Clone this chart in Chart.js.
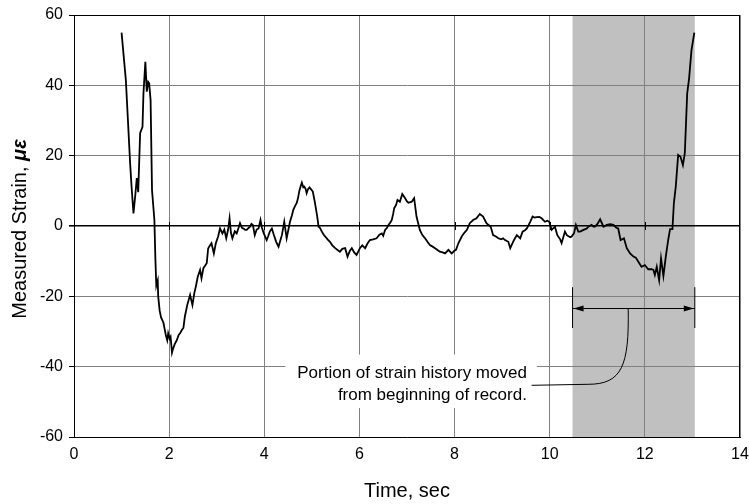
<!DOCTYPE html>
<html>
<head>
<meta charset="utf-8">
<title>Measured Strain</title>
<script src="https://cdn.jsdelivr.net/npm/chart.js@4/dist/chart.umd.min.js"></script>
<style>
    body { margin: 0; background: #fff; }
    canvas { display: block; }
</style>
</head>
<body>
<canvas id="strainChart" width="749" height="504"></canvas>
<script>
// Strain record (time in sec, strain in microstrain)
const timeSec = [
    1.00, 1.09, 1.18, 1.21, 1.25, 1.29, 1.32, 1.35, 1.39, 1.44, 1.46, 1.50, 1.53, 1.56, 1.58, 1.61, 1.64, 1.69,
    1.71, 1.73, 1.76, 1.77, 1.80, 1.83, 1.88, 1.93, 1.96, 1.98, 2.01, 2.03, 2.06, 2.08, 2.12, 2.16, 2.20, 2.23,
    2.27, 2.30, 2.33, 2.38, 2.44, 2.49, 2.53, 2.56, 2.60, 2.65, 2.68, 2.72, 2.79, 2.82, 2.86, 2.89, 2.94, 2.98,
    3.03, 3.07, 3.12, 3.16, 3.20, 3.24, 3.27, 3.30, 3.33, 3.38, 3.42, 3.46, 3.49, 3.53, 3.57, 3.60, 3.63, 3.66,
    3.70, 3.73, 3.76, 3.80, 3.84, 3.88, 3.92, 3.95, 3.99, 4.05, 4.08, 4.12, 4.16, 4.20, 4.25, 4.30, 4.34, 4.37,
    4.42, 4.47, 4.50, 4.54, 4.58, 4.61, 4.65, 4.68, 4.71, 4.74, 4.77, 4.79, 4.82, 4.84, 4.87, 4.89, 4.92, 4.95,
    4.98, 5.02, 5.06, 5.09, 5.12, 5.14, 5.17, 5.21, 5.25, 5.28, 5.33, 5.38, 5.43, 5.49, 5.54, 5.59, 5.64, 5.70,
    5.75, 5.80, 5.84, 5.89, 5.94, 6.01, 6.06, 6.12, 6.17, 6.22, 6.29, 6.36, 6.42, 6.47, 6.50, 6.54, 6.58, 6.61,
    6.65, 6.68, 6.71, 6.73, 6.77, 6.80, 6.85, 6.90, 6.93, 6.96, 7.00, 7.03, 7.07, 7.10, 7.15, 7.20, 7.24, 7.27,
    7.32, 7.38, 7.43, 7.48, 7.53, 7.59, 7.64, 7.69, 7.75, 7.80, 7.87, 7.94, 8.00, 8.03, 8.08, 8.15, 8.20, 8.26,
    8.32, 8.39, 8.46, 8.53, 8.60, 8.67, 8.76, 8.81, 8.87, 8.92, 8.98, 9.02, 9.06, 9.13, 9.17, 9.23, 9.27, 9.31,
    9.38, 9.43, 9.48, 9.52, 9.59, 9.64, 9.68, 9.73, 9.78, 9.83, 9.90, 9.95, 9.99, 10.04, 10.11, 10.16, 10.22, 10.25,
    10.32, 10.36, 10.43, 10.46, 10.51, 10.55, 10.60, 10.64, 10.71, 10.78, 10.81, 10.88, 10.92, 10.95, 11.00, 11.06,
    11.13, 11.20, 11.27, 11.34, 11.40, 11.44, 11.49, 11.56, 11.62, 11.69, 11.76, 11.81, 11.86, 11.93, 12.00, 12.07,
    12.14, 12.18, 12.21, 12.25, 12.30, 12.34, 12.39, 12.44, 12.49, 12.53, 12.58, 12.61, 12.65, 12.70, 12.75, 12.80,
    12.84, 12.89, 12.93, 12.98, 13.04
];
const strainMicro = [
    55, 41.5, 17.8, 11.2, 3.6, 9, 13.6, 9.6, 26.4, 28.2, 37.7, 46.7, 38.2, 41, 40.6, 35.8, 10.2, 1.7,
    -9, -17, -15.5, -20, -24, -26, -27.5, -31, -32.5, -30.5, -32, -31.5, -36, -35, -33.5, -32.5, -31, -30.5,
    -29.5, -29, -25.8, -22.5, -19.6, -22.5, -19, -17.3, -14.5, -12.5, -14.9, -12, -10.6, -6.4, -5.5, -4.9, -7.8, -5,
    -3, -0.7, -2.1, -1, -3.5, -1, 2.2, -2, -3.5, -1.5, -2.1, -0.5, 0.8, -0.5, -0.8, -1.1, -1.1, -0.7,
    -0.2, 0.6, 0.3, -2.6, -1, -0.7, 1.7, -0.5, -2.1, -4, -3, -1.5, -0.7, -2.5, -4.5, -5.9, -4, -2.6,
    1.2, -3.5, -1.5, 1.2, 3, 4.6, 5.8, 6.5, 8, 10.2, 11.5, 12.3, 11, 11.2, 10.5, 9.3, 10.5, 11,
    10.5, 9.8, 7, 4.6, 2, -0.2, -0.5, -1.6, -2.5, -3, -3.8, -4.5, -5.5, -6.3, -6.8, -7.3, -6.5, -6.3,
    -8.7, -7, -6.3, -7.5, -8.2, -6.3, -5.5, -6.3, -5, -4, -3.8, -3.5, -2.5, -2.1, -2.8, -1.1, -0.5, 0.3,
    1, 1.7, 3.5, 5, 6, 7.4, 6.9, 9.1, 8.5, 7.9, 7, 6.6, 6.8, 6.9, 7.9, 2.7, 0.5, -1.1,
    -2.5, -3.5, -4.5, -5.4, -5.8, -6.3, -6.8, -7.3, -7.5, -7.8, -6.8, -7.8, -7, -6.8, -4.9, -3, -2, -1.1,
    0.8, 1.7, 2.2, 3.4, 2.7, 0.8, -0.2, -2.6, -3, -3.5, -3.8, -3.5, -4, -4.5, -6.3, -4.5, -3.5, -2.6,
    -3.5, -1.6, -1.2, -0.7, 1.2, 2.7, 2.4, 2.5, 2.6, 2.2, 1.2, 1.5, 1.2, -1.1, -0.2, -2.6, -3.8, -4.9,
    -1.6, -2.6, -3.2, -3, -2.1, 0.3, -1.6, -1.6, -1.1, -0.7, -0.2, 0.3, -0.2, -0.2, 0.5, 1.9,
    -0.2, 0.3, 0.5, 0.3, -0.5, -0.7, -4, -3.5, -6.3, -7.8, -8.7, -9, -10.1, -11.6, -11.1, -12.3,
    -12.3, -12.5, -13.9, -11.6, -15.4, -9.2, -14.2, -8.7, -4, -0.9, -0.9, 6.5, 11.2, 20.2, 19.7, 17.3,
    20.7, 37.7, 42, 50, 55
];

// Axis ranges and ticks
const xRange = [0, 14];
const xStep = 2;
const yRange = [-60, 60];
const yStep = 20;

// Shaded portion (moved from beginning of record)
const shadeSpan = [10.48, 13.05];
const noteLines = ['Portion of strain history moved', 'from beginning of record.'];

const FONT = '"Liberation Sans", Arial, Helvetica, sans-serif';

// Background, shading, frame and annotation drawing
const annotationPlugin = {
    id: 'annotation',
    beforeDraw: (chart) => {
        const { ctx, chartArea, scales } = chart;
        ctx.save();
        ctx.fillStyle = '#fff';
        ctx.fillRect(0, 0, chart.width, chart.height);
        const x0 = scales.x.getPixelForValue(shadeSpan[0]);
        const x1 = scales.x.getPixelForValue(shadeSpan[1]);
        ctx.fillStyle = '#c0c0c0';
        ctx.fillRect(x0, chartArea.top, x1 - x0, chartArea.bottom - chartArea.top);
        ctx.restore();
    },
    afterDraw: (chart) => {
        const { ctx, chartArea, scales } = chart;
        const xs = scales.x, ys = scales.y;
        ctx.save();

        // top and right frame
        ctx.strokeStyle = '#000';
        ctx.lineWidth = 1;
        ctx.beginPath();
        ctx.moveTo(chartArea.left, Math.round(chartArea.top) + 0.5);
        ctx.lineTo(chartArea.right, Math.round(chartArea.top) + 0.5);
        ctx.moveTo(Math.round(chartArea.right) - 0.5, chartArea.top);
        ctx.lineTo(Math.round(chartArea.right) - 0.5, chartArea.bottom);
        ctx.stroke();

        // cross tick marks on the zero line
        const yZero = ys.getPixelForValue(0);
        ctx.beginPath();
        for (let t = xRange[0] + xStep; t < xRange[1]; t += xStep) {
            const px = Math.round(xs.getPixelForValue(t)) + 0.5;
            ctx.moveTo(px, yZero - 4);
            ctx.lineTo(px, yZero + 4);
        }
        ctx.stroke();

        // dimension arrow across the shaded span
        const ax0 = xs.getPixelForValue(shadeSpan[0]);
        const ax1 = xs.getPixelForValue(shadeSpan[1]);
        const ay = Math.round(ys.getPixelForValue(-23.4)) + 0.5;
        ctx.beginPath();
        ctx.moveTo(ax0, ys.getPixelForValue(-17.4));
        ctx.lineTo(ax0, ys.getPixelForValue(-29));
        ctx.moveTo(ax1, ys.getPixelForValue(-17.4));
        ctx.lineTo(ax1, ys.getPixelForValue(-29));
        ctx.moveTo(ax0, ay);
        ctx.lineTo(ax1, ay);
        ctx.stroke();
        ctx.fillStyle = '#000';
        ctx.beginPath();
        ctx.moveTo(ax0 + 1, ay);
        ctx.lineTo(ax0 + 11, ay - 3);
        ctx.lineTo(ax0 + 11, ay + 3);
        ctx.closePath();
        ctx.moveTo(ax1 - 1, ay);
        ctx.lineTo(ax1 - 11, ay - 3);
        ctx.lineTo(ax1 - 11, ay + 3);
        ctx.closePath();
        ctx.fill();

        // note text on a white box
        const textRight = xs.getPixelForValue(9.52);
        const base1 = ys.getPixelForValue(-43.1);
        const base2 = ys.getPixelForValue(-49.5);
        ctx.font = '17px ' + FONT;
        const boxLeft = textRight - ctx.measureText(noteLines[0]).width - 12;
        ctx.fillStyle = '#fff';
        ctx.fillRect(boxLeft, base1 - 23, textRight + 10 - boxLeft, base2 - base1 + 31);
        ctx.fillStyle = '#000';
        ctx.textAlign = 'right';
        ctx.textBaseline = 'alphabetic';
        ctx.fillText(noteLines[0], textRight, base1);
        ctx.fillText(noteLines[1], textRight, base2);

        // callout line from arrow to note
        const cx = xs.getPixelForValue(11.65);
        const cEndX = xs.getPixelForValue(9.62);
        const cEndY = ys.getPixelForValue(-45.3);
        ctx.beginPath();
        ctx.moveTo(cx, ay);
        ctx.bezierCurveTo(cx + 1, cEndY - 20, cx - 6, cEndY - 1, cx - 40, cEndY - 1);
        ctx.lineTo(cEndX, cEndY);
        ctx.stroke();

        // axis titles
        ctx.font = '20px ' + FONT;
        ctx.textAlign = 'center';
        ctx.textBaseline = 'middle';
        ctx.fillText('Time, sec', (chartArea.left + chartArea.right) / 2, 491);

        const plain = 'Measured Strain, ';
        const unit = 'με';
        ctx.font = '20px ' + FONT;
        const wPlain = ctx.measureText(plain).width;
        ctx.font = 'italic bold 20px ' + FONT;
        const wUnit = ctx.measureText(unit).width;
        ctx.translate(20, 229);
        ctx.rotate(-Math.PI / 2);
        ctx.textAlign = 'left';
        const start = -(wPlain + wUnit) / 2;
        ctx.font = '20px ' + FONT;
        ctx.fillText(plain, start, 0);
        ctx.font = 'italic bold 20px ' + FONT;
        ctx.fillText(unit, start + wPlain, 0);

        ctx.restore();
    }
};

const tickFont = { family: FONT, size: 16 };

const ctx = document.getElementById('strainChart').getContext('2d');
const strainChart = new Chart(ctx, {
    type: 'scatter',
    data: {
        datasets: [{
            label: 'Measured Strain',
            data: timeSec.map((t, i) => ({ x: t, y: strainMicro[i] })),
            showLine: true,
            borderColor: '#000',
            borderWidth: 1.8,
            pointRadius: 0,
            tension: 0
        }]
    },
    options: {
        responsive: false,
        animation: false,
        layout: { padding: { top: 15, right: 9, left: 0, bottom: 0 } },
        plugins: {
            legend: { display: false },
            tooltip: { enabled: false }
        },
        scales: {
            x: {
                type: 'linear',
                min: xRange[0],
                max: xRange[1],
                ticks: { stepSize: xStep, color: '#000', font: tickFont, padding: 8, maxRotation: 0 },
                grid: { color: '#808080', lineWidth: 1, drawTicks: false },
                border: { color: '#000', width: 1 },
                afterFit: (scale) => {
                    scale.height = 67;
                    scale.paddingLeft = 0;
                    scale.paddingRight = 0;
                }
            },
            y: {
                type: 'linear',
                min: yRange[0],
                max: yRange[1],
                ticks: { stepSize: yStep, color: '#000', font: tickFont, padding: 6 },
                grid: {
                    color: (c) => (c.tick && c.tick.value === 0 ? '#000' : '#808080'),
                    lineWidth: (c) => (c.tick && c.tick.value === 0 ? 1.6 : 1),
                    tickColor: '#000',
                    tickLength: 5
                },
                border: { color: '#000', width: 1 },
                afterFit: (scale) => {
                    scale.width = 74;
                    scale.paddingTop = 0;
                    scale.paddingBottom = 0;
                }
            }
        }
    },
    plugins: [annotationPlugin]
});
</script>
</body>
</html>
